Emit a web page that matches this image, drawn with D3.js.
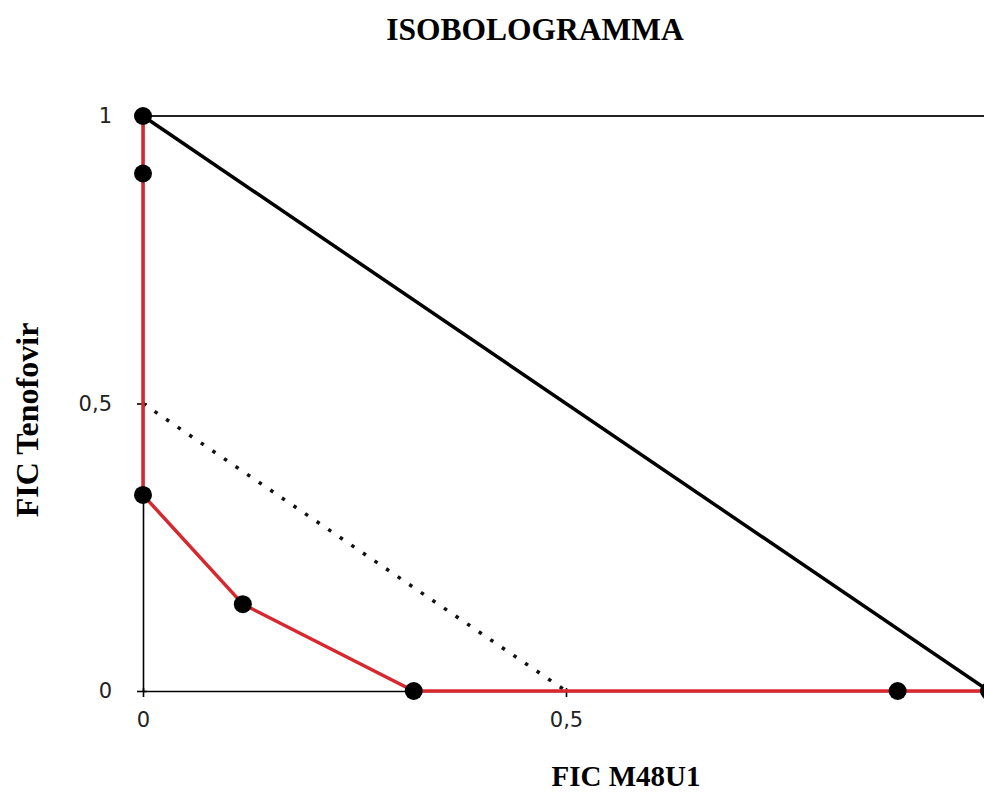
<!DOCTYPE html>
<html>
<head>
<meta charset="utf-8">
<script src="https://cdn.jsdelivr.net/npm/d3@7"></script>
<style>
  body { margin: 0; background: #fff; }
  svg { display: block; }
</style>
</head>
<body>
<svg id="chart" width="984" height="792"></svg>
<script>
// FIC values
const redX = [0, 0, 0, 0.118, 0.32, 0.892, 1];
const redY = [1, 0.9, 0.341, 0.151, 0, 0, 0];
const additiveLine = [[0, 1], [1, 0]];
const synergyLine = [[0, 0.5], [0.5, 0]];
const topLine = [[0, 1], [1.1, 1]];
const xTicks = [0, 0.5];
const yTicks = [0, 0.5, 1];

const svg = d3.select('#chart');

const x = d3.scaleLinear().domain([0, 1]).range([143, 989]);
const y = d3.scaleLinear().domain([0, 1]).range([691, 116]);

const fmt = d => String(d).replace('.', ',');

const line = d3.line()
  .x(d => x(d[0]))
  .y(d => y(d[1]));

// title + axis titles
svg.append('text')
  .attr('x', 535).attr('y', 40)
  .attr('text-anchor', 'middle')
  .attr('font-family', 'Liberation Serif, Times New Roman, serif')
  .attr('font-weight', 'bold')
  .attr('font-size', 31.5)
  .text('ISOBOLOGRAMMA');

svg.append('text')
  .attr('x', 626).attr('y', 786)
  .attr('text-anchor', 'middle')
  .attr('font-family', 'Liberation Serif, Times New Roman, serif')
  .attr('font-weight', 'bold')
  .attr('font-size', 29)
  .text('FIC M48U1');

svg.append('text')
  .attr('transform', 'translate(38,420) rotate(-90)')
  .attr('text-anchor', 'middle')
  .attr('font-family', 'Liberation Serif, Times New Roman, serif')
  .attr('font-weight', 'bold')
  .attr('font-size', 32)
  .text('FIC Tenofovir');

// axes
const yAxis = svg.append('g')
  .attr('transform', 'translate(' + x(0) + ',0)')
  .call(d3.axisLeft(y).tickValues(yTicks).tickFormat(fmt).tickSize(6).tickSizeOuter(0).tickPadding(25));

const xAxis = svg.append('g')
  .attr('transform', 'translate(0,' + y(0) + ')')
  .call(d3.axisBottom(x).tickValues(xTicks).tickFormat(fmt).tickSize(5).tickSizeOuter(0).tickPadding(16));

yAxis.selectAll('.tick line').attr('x1', 4).attr('x2', -6);
xAxis.selectAll('.tick line').attr('y1', -3).attr('y2', 6);

[yAxis, xAxis].forEach(a => {
  a.select('.domain').attr('stroke', '#000').attr('stroke-width', 1.6);
  a.selectAll('.tick line').attr('stroke', '#000').attr('stroke-width', 1.6);
  a.selectAll('.tick text')
    .attr('font-family', 'DejaVu Sans, Verdana, sans-serif')
    .attr('font-size', 21)
    .attr('fill', '#222');
});

// top border at FIC = 1
svg.append('path')
  .attr('d', line(topLine))
  .attr('stroke', '#222')
  .attr('stroke-width', 2)
  .attr('fill', 'none');

// additive line
svg.append('path')
  .attr('d', line(additiveLine))
  .attr('stroke', '#000')
  .attr('stroke-width', 3.5)
  .attr('fill', 'none');

// synergy threshold (dotted)
svg.append('path')
  .attr('d', line(synergyLine))
  .attr('stroke', '#111')
  .attr('stroke-width', 3.5)
  .attr('stroke-dasharray', '3.5,10.5')
  .attr('fill', 'none');

// measured isobole
const pts = redX.map((d, i) => [d, redY[i]]);

svg.append('path')
  .attr('d', line(pts))
  .attr('stroke', '#d7282f')
  .attr('stroke-width', 3.5)
  .attr('fill', 'none');

svg.selectAll('circle.pt')
  .data(pts)
  .enter()
  .append('circle')
  .attr('class', 'pt')
  .attr('cx', d => x(d[0]))
  .attr('cy', d => y(d[1]))
  .attr('r', 9)
  .attr('fill', '#000');
</script>
</body>
</html>
